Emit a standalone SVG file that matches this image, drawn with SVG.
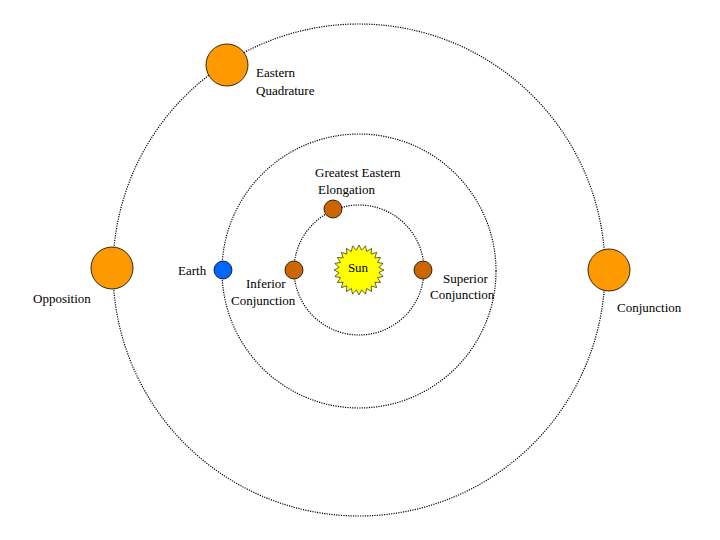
<svg xmlns="http://www.w3.org/2000/svg" width="720" height="540" viewBox="0 0 720 540">
<style>
.orbit{fill:none;stroke:#000;stroke-width:1.2;stroke-dasharray:1.2 1.2}
.big{fill:#ff9900;stroke:#000;stroke-width:0.8}
.small{fill:#cc6600;stroke:#000;stroke-width:0.8}
text{font-family:"Liberation Serif","DejaVu Serif",serif;font-size:13px;fill:#000}
</style>
<rect width="720" height="540" fill="#fff"/>
<g id="orbits">
<circle class="orbit" cx="359" cy="270" r="246"/>
<circle class="orbit" cx="359" cy="271" r="137"/>
<circle class="orbit" cx="359" cy="270" r="65"/>
</g>
<g id="sun" transform="translate(359,270)">
<polygon fill="#ffff00" stroke="#000" stroke-width="0.6" points="25,0 19.83,2.61 24.15,6.47 18.48,7.65 21.65,12.5 15.87,12.18 17.68,17.68 12.18,15.87 12.5,21.65 7.65,18.48 6.47,24.15 2.61,19.83 0,25 -2.61,19.83 -6.47,24.15 -7.65,18.48 -12.5,21.65 -12.18,15.87 -17.68,17.68 -15.87,12.18 -21.65,12.5 -18.48,7.65 -24.15,6.47 -19.83,2.61 -25,0 -19.83,-2.61 -24.15,-6.47 -18.48,-7.65 -21.65,-12.5 -15.87,-12.18 -17.68,-17.68 -12.18,-15.87 -12.5,-21.65 -7.65,-18.48 -6.47,-24.15 -2.61,-19.83 0,-25 2.61,-19.83 6.47,-24.15 7.65,-18.48 12.5,-21.65 12.18,-15.87 17.68,-17.68 15.87,-12.18 21.65,-12.5 18.48,-7.65 24.15,-6.47 19.83,-2.61"/>
<text x="-1" y="2" text-anchor="middle">Sun</text>
</g>
<g id="quadrature"><circle class="big" cx="227" cy="65" r="21"/><text x="256" y="77">Eastern</text><text x="256" y="95">Quadrature</text></g>
<g id="opposition"><circle class="big" cx="112" cy="268" r="21"/><text x="33" y="303">Opposition</text></g>
<g id="conjunction"><circle class="big" cx="609" cy="270" r="21"/><text x="617" y="312">Conjunction</text></g>
<g id="earth"><circle cx="223" cy="270" r="9" fill="#0066ff" stroke="#000" stroke-width="0.8"/><text x="178" y="275">Earth</text></g>
<g id="elongation"><circle class="small" cx="333" cy="209" r="9"/><text x="315" y="177">Greatest Eastern</text><text x="318" y="194">Elongation</text></g>
<g id="inferior"><circle class="small" cx="294" cy="270" r="9"/><text x="246" y="288">Inferior</text><text x="231" y="305">Conjunction</text></g>
<g id="superior"><circle class="small" cx="423" cy="270" r="9"/><text x="443" y="283">Superior</text><text x="430" y="299">Conjunction</text></g>
</svg>
